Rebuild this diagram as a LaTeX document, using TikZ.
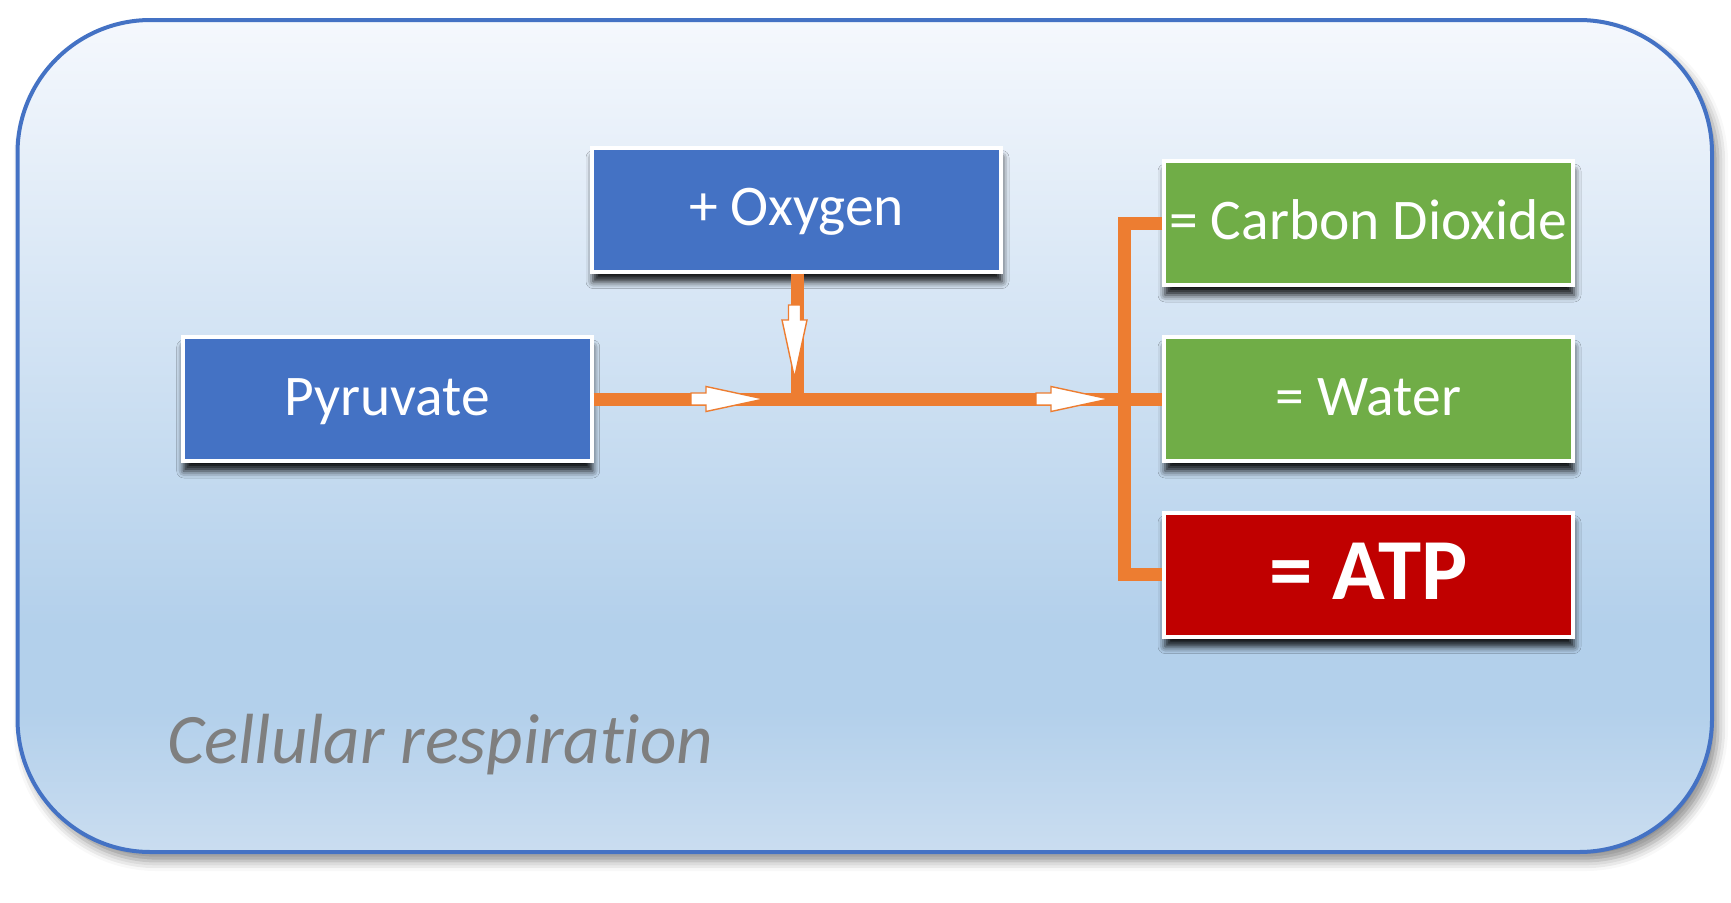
\documentclass[tikz,border=0pt]{standalone}
\usepackage{fontspec}
\setmainfont{Carlito}[Ligatures=NoCommon]
\usetikzlibrary{shadows.blur}
\definecolor{frameblue}{HTML}{4472C4}
\definecolor{boxblue}{HTML}{4472C4}
\definecolor{boxgreen}{HTML}{70AD47}
\definecolor{boxred}{HTML}{C00000}
\definecolor{lineorange}{HTML}{ED7D31}
\definecolor{captiongray}{HTML}{7F7F7F}
\definecolor{bgT}{HTML}{F5F8FD}
\definecolor{bgM}{HTML}{B3D0EB}
\definecolor{bgB}{HTML}{CADDF0}
\pgfdeclareverticalshading{panelshade}{100bp}{color(0bp)=(bgB); color(25bp)=(bgB); color(33.5bp)=(bgM); color(38.5bp)=(bgM); color(75bp)=(bgT); color(100bp)=(bgT)}
\tikzset{
  panel/.style={draw=frameblue, line width=4pt, rounded corners=133pt, shading=panelshade,
    blur shadow={shadow xshift=6pt, shadow yshift=-9pt, shadow blur radius=10pt, shadow opacity=45}},
  stepbox/.style={draw=white, line width=4pt, minimum width=409pt, minimum height=124pt,
    inner sep=0pt, text=white, font=\fontsize{57.5}{62}\selectfont,
    text height=38pt, text depth=5.8pt,
    blur shadow={shadow xshift=1pt, shadow yshift=-10pt, shadow blur radius=7pt, shadow opacity=90}},
  link/.style={draw=lineorange, line width=13pt, line join=miter},
  arrowmark/.style={fill=white, draw=lineorange, line width=1.4pt, line join=miter},
  blockarr/.pic={\path[arrowmark] (-73,-6) -- (-58,-6) -- (-58,-12.5) -- (0,0) -- (-58,12.5) -- (-58,6) -- (-73,6) -- cycle;}
}
\begin{document}
\begin{tikzpicture}[x=1pt,y=-1pt]
\useasboundingbox (0,0) rectangle (1731,902);
\path[panel] (17.5,20) rectangle (1712,852);
\node[anchor=base west, text=captiongray, font=\itshape\fontsize{71}{80}\selectfont] (caption) at (164,763) {Cellular respiration};
\node[stepbox, fill=boxblue] (pyr) at (387.2,399) {Pyruvate};
\node[stepbox, fill=boxblue] (oxy) at (796.5,209.5) {+ Oxygen};
\node[stepbox, fill=boxgreen] (co2) at (1368.5,223) {= Carbon Dioxide};
\node[stepbox, fill=boxgreen] (water) at (1368.5,399) {= Water};
\node[stepbox, fill=boxred, font=\bfseries\fontsize{87}{92}\selectfont, text height=61pt, text depth=12pt] (atp) at (1368.5,574.5) {= ATP};
\coordinate (meet) at (797.6,399);
\coordinate (split) at (1124,399);
\draw[link] (pyr.east) -- (water.west);
\draw[link] (oxy.south -| meet) -- (meet);
\draw[link] (co2.west) -| (split) |- (atp.west);
\pic at (764,399) {blockarr};
\pic at (1109,399) {blockarr};
\pic[rotate=-90] at (794.5,378) {blockarr};
\end{tikzpicture}
\end{document}
